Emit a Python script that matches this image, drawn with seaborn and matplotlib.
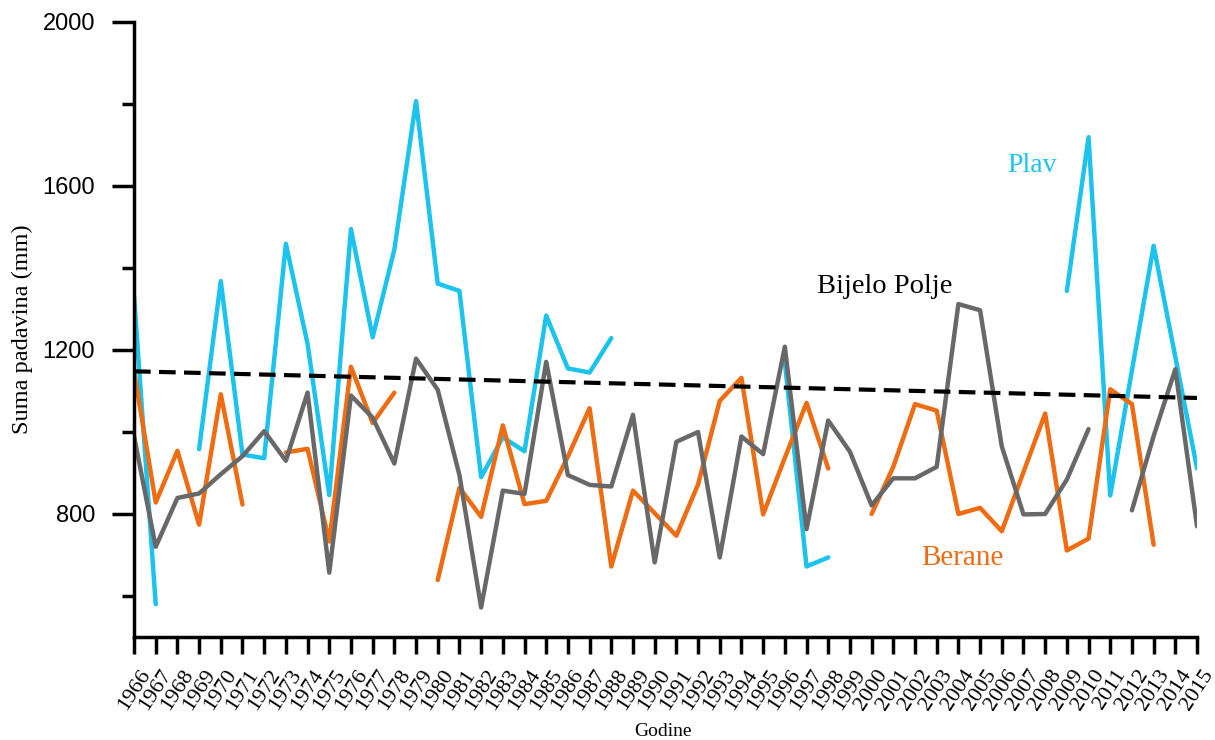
import matplotlib
matplotlib.use('Agg')
import matplotlib.pyplot as plt
import numpy as np
import pandas as pd
import seaborn as sns

# annual precipitation sums (mm), nan = no data
years = list(range(1966, 2016))
plav = [1332, 580, np.nan, 958, 1368, 945, 936, 1459, 1215, 846,
        1495, 1231, 1445, 1807, 1362, 1344, 890, 987, 953, 1284,
        1155, 1145, 1229, np.nan, np.nan, np.nan, np.nan, np.nan, np.nan, np.nan,
        1170, 672, 694, np.nan, np.nan, np.nan, np.nan, np.nan, np.nan, np.nan,
        np.nan, np.nan, np.nan, 1344, 1719, 845, 1150, 1454, 1183, 911]
berane = [1148, 828, 954, 774, 1092, 823, np.nan, 950, 959, 733,
          1159, 1022, 1096, np.nan, 639, 864, 793, 1016, 824, 832,
          940, 1058, 672, 857, 802, 747, 872, 1076, 1132, 799,
          937, 1071, 911, np.nan, 800, 915, 1068, 1052, 800, 815,
          758, 902, 1045, 711, 740, 1104, 1068, 725, np.nan, np.nan]
bijelo_polje = [990, 720, 839, 850, 897, 941, 1002, 930, 1096, 657,
                1089, 1035, 923, 1179, 1103, 895, 572, 857, 849, 1171,
                895, 871, 867, 1042, 682, 976, 1000, 694, 989, 946,
                1208, 763, 1028, 952, 821, 887, 887, 915, 1312, 1297,
                965, 799, 800, 884, 1007, np.nan, 809, 990, 1153, 770]
trend_years = [1966, 2015]
trend_vals = [1148, 1083]

STATIONS = ['Plav', 'Berane', 'Bijelo Polje']
COLORS = {'Plav': '#1cc3ee', 'Berane': '#ef6c12', 'Bijelo Polje': '#686868'}


def to_long(name, vals):
    df = pd.DataFrame({'year': years, 'value': vals})
    df['station'] = name
    # start a new segment after every gap so the line breaks there
    df['seg'] = df['value'].isna().cumsum()
    return df.dropna()


data = pd.concat([to_long(n, v) for n, v in zip(STATIONS, [plav, berane, bijelo_polje])])
data['unit'] = data['station'] + '_' + data['seg'].astype(str)

sns.set_style('ticks')
plt.rcParams['font.family'] = ['Liberation Serif', 'DejaVu Serif']

fig = plt.figure(figsize=(12.15, 7.4), dpi=100)
ax = fig.add_axes([0.1103, 0.1392, 0.8749, 0.8311])

sns.lineplot(data=data, x='year', y='value', hue='station', hue_order=STATIONS,
             units='unit', estimator=None, palette=COLORS, lw=3.2,
             legend=False, ax=ax)
sns.lineplot(x=trend_years, y=trend_vals, color='black', lw=3.0,
             linestyle=(0, (4, 2)), ax=ax)

ax.set_xlim(1966, 2015)
ax.set_ylim(500, 2000)
ax.set_xticks(years)
ax.set_xticklabels([str(y) for y in years], rotation=57, ha='center')
ax.set_yticks([800, 1200, 1600, 2000])
ax.set_yticks([600, 1000, 1400, 1800], minor=True)
for lab in ax.get_yticklabels():
    lab.set_fontfamily(['Liberation Sans', 'DejaVu Sans'])

ax.tick_params(axis='both', which='both', color='black', labelcolor='black')
ax.tick_params(axis='y', which='major', length=16, width=2.5, pad=12, labelsize=17)
ax.tick_params(axis='y', which='minor', length=8.5, width=2.5)
ax.tick_params(axis='x', which='major', length=12, width=2.5, pad=9, labelsize=16)

sns.despine(ax=ax)
for sp in ['left', 'bottom']:
    ax.spines[sp].set_linewidth(2.5)
    ax.spines[sp].set_color('black')

ax.set_ylabel('Suma padavina (mm)', fontsize=17.5, color='black')
ax.yaxis.set_label_coords(-0.095, 0.5)
ax.set_xlabel('Godine', fontsize=14, color='black')
ax.xaxis.set_label_coords(0.498, -0.14)

ax.text(2007.4, 1649, 'Plav', color=COLORS['Plav'], fontsize=20, ha='center', va='center')
ax.text(2000.6, 1356, 'Bijelo Polje', color='black', fontsize=20.5, ha='center', va='center')
ax.text(2004.2, 692, 'Berane', color=COLORS['Berane'], fontsize=21, ha='center', va='center')

fig.savefig('out.png', dpi=100)
